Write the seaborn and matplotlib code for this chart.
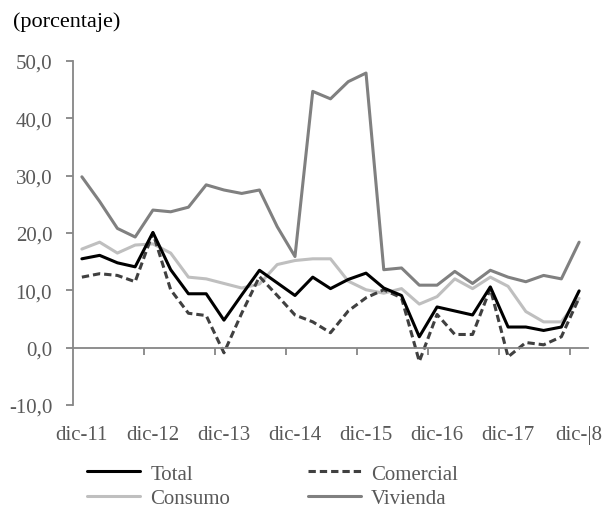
import numpy as np
import pandas as pd
import seaborn as sns
import matplotlib.pyplot as plt
from matplotlib.ticker import FuncFormatter
from matplotlib.lines import Line2D

# ---- data (quarterly, dic-11 .. dic-18) ----
quarters = ['dic-11', 'mar-12', 'jun-12', 'sep-12', 'dic-12', 'mar-13', 'jun-13', 'sep-13',
            'dic-13', 'mar-14', 'jun-14', 'sep-14', 'dic-14', 'mar-15', 'jun-15', 'sep-15',
            'dic-15', 'mar-16', 'jun-16', 'sep-16', 'dic-16', 'mar-17', 'jun-17', 'sep-17',
            'dic-17', 'mar-18', 'jun-18', 'sep-18', 'dic-18']
tick_labels = ['dic-11', 'dic-12', 'dic-13', 'dic-14', 'dic-15', 'dic-16', 'dic-17', 'dic-|8']

total = [15.5, 16.1, 14.8, 14.1, 20.1, 13.6, 9.4, 9.4, 4.8, 9.2, 13.5, 11.3, 9.1, 12.3, 10.3,
         11.9, 13.0, 10.4, 9.1, 1.9, 7.1, 6.4, 5.7, 10.6, 3.6, 3.6, 3.0, 3.6, 9.9]
comercial = [12.3, 12.9, 12.6, 11.5, 20.0, 10.1, 6.0, 5.6, -0.9, 6.0, 12.4, 9.1, 5.7, 4.5, 2.6,
             6.4, 8.7, 10.1, 8.7, -2.4, 5.8, 2.3, 2.3, 10.3, -1.6, 0.9, 0.5, 1.9, 8.7]
consumo = [17.2, 18.4, 16.5, 17.9, 18.1, 16.5, 12.3, 12.0, 11.2, 10.4, 11.1, 14.5, 15.2, 15.5,
           15.5, 11.6, 10.1, 9.5, 10.3, 7.6, 8.9, 12.0, 10.3, 12.3, 10.7, 6.3, 4.5, 4.5, 8.6]
vivienda = [29.8, 25.5, 20.8, 19.3, 24.0, 23.7, 24.5, 28.4, 27.5, 26.9, 27.5, 21.1, 15.9, 44.7,
            43.4, 46.4, 47.9, 13.6, 13.9, 10.9, 10.9, 13.3, 11.2, 13.5, 12.3, 11.5, 12.6, 12.0, 18.4]

series_names = ['Total', 'Comercial', 'Consumo', 'Vivienda']
series_values = [total, comercial, consumo, vivienda]

idx = np.arange(len(quarters))
df = pd.DataFrame({
    't': np.tile(idx, 4),
    'valor': np.concatenate(series_values),
    'serie': np.repeat(series_names, len(quarters)),
})

palette = {'Total': '#000000', 'Comercial': '#404040', 'Consumo': '#BFBFBF', 'Vivienda': '#808080'}
dashes = {'Total': '', 'Comercial': (2.4, 1.3), 'Consumo': '', 'Vivienda': ''}
draw_order = ['Vivienda', 'Consumo', 'Comercial', 'Total']

sns.set_theme(style='white')
plt.rcParams['font.family'] = ['Liberation Serif', 'DejaVu Serif']

fig = plt.figure(figsize=(6.06, 5.10), dpi=100)
ax = fig.add_axes([73 / 606, 1 - 406 / 510, (588 - 73) / 606, (406 - 62) / 510])

sns.lineplot(data=df, x='t', y='valor', hue='serie', style='serie', hue_order=draw_order,
             style_order=draw_order, palette=palette, dashes=dashes, linewidth=2.2,
             ax=ax, legend=False)

axis_col = '#868686'
text_col = '#595959'
fs = 15

ax.set_xlim(-0.5, len(quarters) - 0.5)
ax.set_ylim(-10, 50)
ax.set_xlabel('')
ax.set_ylabel('')
ax.set_yticks(np.arange(-10, 51, 10))
ax.yaxis.set_major_formatter(FuncFormatter(lambda v, p: f'{v:.1f}'.replace('.', ',')))
ax.set_xticks(idx[::4])
ax.set_xticklabels(tick_labels)
ax.set_xticks(idx[::4][1:] - 0.5, minor=True)

for s in ['top', 'right']:
    ax.spines[s].set_visible(False)
ax.spines['left'].set_color(axis_col)
ax.spines['left'].set_linewidth(1.3)
ax.spines['bottom'].set_color(axis_col)
ax.spines['bottom'].set_linewidth(1.3)
ax.spines['bottom'].set_position(('data', 0))

ax.tick_params(axis='y', which='major', direction='out', length=5, width=1.3, color=axis_col,
               labelcolor=text_col, labelsize=fs, pad=10, left=True)
ax.tick_params(axis='x', which='major', length=0, labelcolor=text_col, labelsize=fs, pad=56,
               bottom=True)
ax.tick_params(axis='x', which='minor', direction='out', length=5, width=1.3, color=axis_col,
               bottom=True)
ax.grid(False)

fig.text(13 / 606, 1 - 22 / 510, '(porcentaje)', ha='left', va='center', fontsize=16, color='#000000')

handles = [Line2D([], [], color=palette[n], lw=2.2,
                  linestyle=(0, dashes[n]) if dashes[n] else '-') for n in
           ['Total', 'Consumo', 'Comercial', 'Vivienda']]
labels = ['Total', 'Consumo', 'Comercial', 'Vivienda']
leg = fig.legend(handles, labels, ncol=2, loc='upper left', bbox_to_anchor=(87 / 606, 1 - 465 / 510),
                 frameon=False, fontsize=fs, handlelength=2.55, handletextpad=0.5,
                 columnspacing=3.7, labelspacing=0.25, borderpad=0, borderaxespad=0)
for t in leg.get_texts():
    t.set_color(text_col)

fig.savefig('out.png', dpi=100)
